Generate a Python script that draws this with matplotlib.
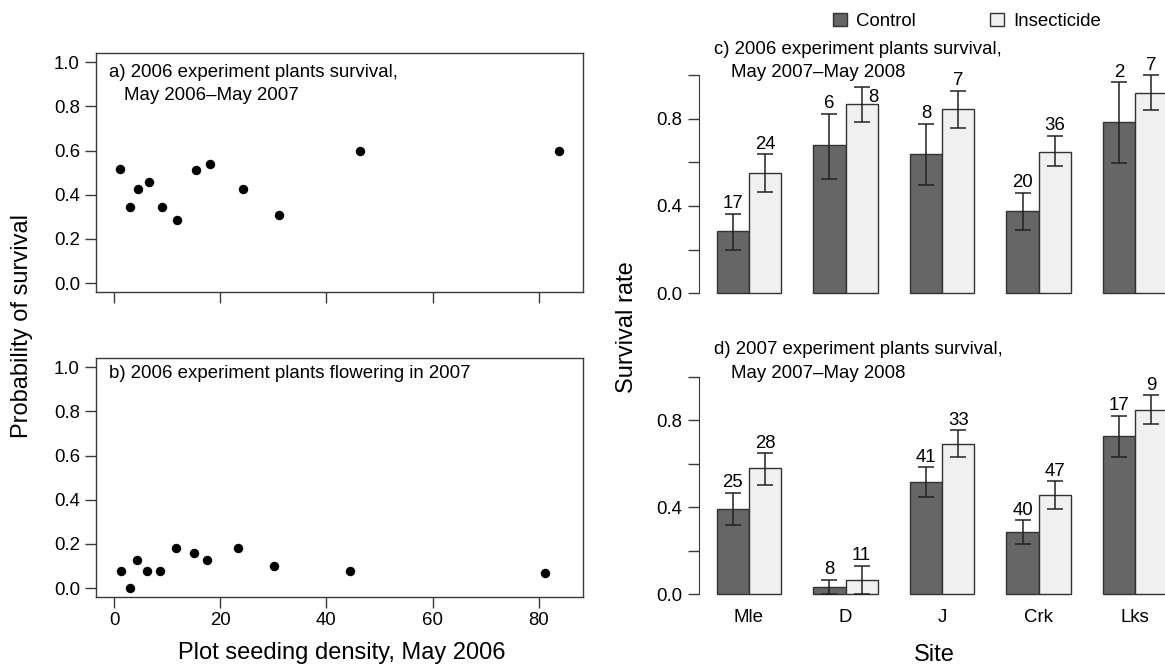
import matplotlib.pyplot as plt
import numpy as np
from matplotlib.patches import Patch

plt.rcParams['font.family'] = ['Liberation Sans', 'DejaVu Sans']

# a) survival vs seeding density
dens_a = [1.1, 3.0, 4.6, 6.5, 9.1, 11.8, 15.5, 18.1, 24.2, 31.1, 46.4, 83.8]
surv_a = [0.516, 0.343, 0.426, 0.457, 0.343, 0.285, 0.514, 0.540, 0.426, 0.310, 0.598, 0.598]
# b) flowering vs seeding density
dens_b = [1.3, 3.0, 4.4, 6.2, 8.6, 11.6, 15.0, 17.5, 23.4, 30.2, 44.5, 81.1]
flow_b = [0.078, 0.0, 0.127, 0.078, 0.078, 0.181, 0.157, 0.127, 0.181, 0.102, 0.078, 0.067]

sites = ['Mle', 'D', 'J', 'Crk', 'Lks']

# c) 2006 experiment plants
c_ctrl = [0.285, 0.678, 0.637, 0.377, 0.783]
c_ctrl_lo = [0.198, 0.524, 0.495, 0.289, 0.595]
c_ctrl_hi = [0.363, 0.823, 0.776, 0.461, 0.966]
c_ins = [0.551, 0.866, 0.843, 0.649, 0.918]
c_ins_lo = [0.463, 0.783, 0.759, 0.583, 0.838]
c_ins_hi = [0.637, 0.945, 0.927, 0.722, 0.998]
c_n_ctrl = [17, 6, 8, 20, 2]
c_n_ins = [24, 8, 7, 36, 7]

# d) 2007 experiment plants
d_ctrl = [0.390, 0.032, 0.516, 0.288, 0.727]
d_ctrl_lo = [0.317, 0.0, 0.449, 0.230, 0.632]
d_ctrl_hi = [0.466, 0.067, 0.583, 0.340, 0.821]
d_ins = [0.579, 0.067, 0.691, 0.458, 0.848]
d_ins_lo = [0.502, 0.0, 0.632, 0.394, 0.784]
d_ins_hi = [0.649, 0.130, 0.753, 0.519, 0.914]
d_n_ctrl = [25, 8, 41, 40, 17]
d_n_ins = [28, 11, 33, 47, 9]

DARK = '#666666'
LIGHT = '#f0f0f0'
LINE = '#3a3a3a'
FS = 13.4
W, H = 1165, 665

fig = plt.figure(figsize=(W / 100, H / 100), dpi=100)


def box(l, t, r, b):
    return [l / W, 1 - b / H, (r - l) / W, (b - t) / H]


def ftext(x, y, s, **kw):
    fig.text(x / W, 1 - y / H, s, va='center', **kw)


ax_a = fig.add_axes(box(96, 53.3, 583.3, 292))
ax_b = fig.add_axes(box(96, 358.3, 583.3, 597))
ax_c = fig.add_axes(box(698.7, 66.3, 1185.5, 302))
ax_d = fig.add_axes(box(698.7, 368, 1185.5, 603))

for ax, x, y in [(ax_a, dens_a, surv_a), (ax_b, dens_b, flow_b)]:
    ax.plot(x, y, 'o', color='black', ms=6.8, mew=0)
    ax.set_xlim(-3.4, 88.4)
    ax.set_ylim(-0.04, 1.04)
    ax.set_xticks([0, 20, 40, 60, 80])
    ax.set_yticks(np.arange(0, 1.01, 0.2))
    ax.set_yticklabels(['0.0', '0.2', '0.4', '0.6', '0.8', '1.0'])
    for s in ax.spines.values():
        s.set_color(LINE)
        s.set_linewidth(1)
    ax.tick_params(direction='out', length=8, width=1, color=LINE, labelsize=FS)
    ax.tick_params(axis='y', pad=3.6)
    ax.tick_params(axis='x', pad=2.7)
ax_a.tick_params(axis='x', labelbottom=False)


def bars(ax, ctrl, ctrl_lo, ctrl_hi, ins, ins_lo, ins_hi, n_ctrl, n_ins, nudge={}):
    g = np.arange(len(sites)) * 3
    series = [(g + 1.5, ctrl, ctrl_lo, ctrl_hi, n_ctrl, DARK, 'Control'),
              (g + 2.5, ins, ins_lo, ins_hi, n_ins, LIGHT, 'Insecticide')]
    for k, (x, v, lo, hi, n, col, lab) in enumerate(series):
        v, lo, hi = np.array(v), np.array(lo), np.array(hi)
        ax.bar(x, v, width=1, color=col, edgecolor='#333333',
               linewidth=1, label=lab, zorder=2)
        ax.errorbar(x, v, yerr=[v - lo, hi - v], fmt='none', ecolor='#222222',
                    elinewidth=1.1, capsize=5.8, capthick=1.1, zorder=3)
        for i in range(len(x)):
            dx, dy = nudge.get((k, i), (0, 4))
            ax.annotate(str(n[i]), (x[i], hi[i]), xytext=(dx, dy),
                        textcoords='offset points', ha='center', va='baseline',
                        fontsize=FS, annotation_clip=False)
    ax.set_xlim(0.44, 15.56)
    ax.set_ylim(-0.04, 1.04)
    for s in ['top', 'right', 'bottom']:
        ax.spines[s].set_visible(False)
    ax.spines['left'].set_bounds(0, 1)
    ax.spines['left'].set_color(LINE)
    ax.set_yticks(np.arange(0, 1.01, 0.2))
    ax.set_yticklabels(['0.0', '', '0.4', '', '0.8', ''])
    ax.tick_params(axis='y', direction='out', length=8, width=1, color=LINE,
                   labelsize=FS, pad=4)
    ax.set_xticks(g + 2)
    ax.tick_params(axis='x', length=0, labelsize=FS, pad=4.3)


bars(ax_c, c_ctrl, c_ctrl_lo, c_ctrl_hi, c_ins, c_ins_lo, c_ins_hi,
     c_n_ctrl, c_n_ins, nudge={(1, 1): (8.4, -10.7)})
ax_c.set_xticklabels([])
bars(ax_d, d_ctrl, d_ctrl_lo, d_ctrl_hi, d_ins, d_ins_lo, d_ins_hi, d_n_ctrl, d_n_ins)
ax_d.set_xticklabels(sites)

# panel titles
ftext(109.3, 72.3, 'a) 2006 experiment plants survival,', fontsize=FS)
ftext(124.3, 95, 'May 2006\u2013May 2007', fontsize=FS)
ftext(109.3, 374, 'b) 2006 experiment plants flowering in 2007', fontsize=FS)
ftext(714.3, 49.3, 'c) 2006 experiment plants survival,', fontsize=FS)
ftext(730.7, 72.3, 'May 2007\u2013May 2008', fontsize=FS)
ftext(714.3, 350, 'd) 2007 experiment plants survival,', fontsize=FS)
ftext(730.7, 373.3, 'May 2007\u2013May 2008', fontsize=FS)

# axis labels
ftext(21.7, 325.5, 'Probability of survival', fontsize=17, rotation=90, ha='center')
ftext(342, 653, 'Plot seeding density, May 2006', fontsize=17, ha='center')
ftext(626.7, 327.5, 'Survival rate', fontsize=17, rotation=90, ha='center')
ftext(934, 655, 'Site', fontsize=17, ha='center')

fig.legend(handles=[Patch(facecolor=DARK, edgecolor='#333333'),
                    Patch(facecolor=LIGHT, edgecolor='#333333')],
           labels=['Control', 'Insecticide'], loc='center left',
           bbox_to_anchor=(833.3 / W, 1 - 21.7 / H), ncol=2, frameon=False,
           fontsize=FS, handlelength=0.72, handleheight=0.72, handletextpad=0.5,
           columnspacing=4.0, borderpad=0, borderaxespad=0)

fig.savefig('out.png', dpi=100)
